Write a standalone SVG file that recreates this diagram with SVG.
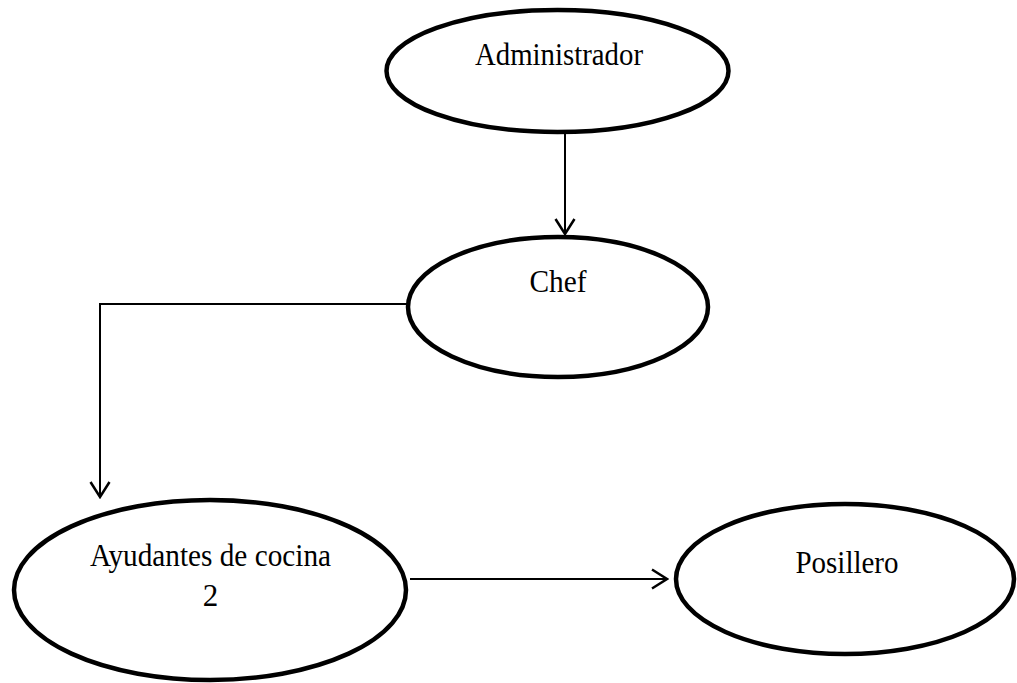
<svg xmlns="http://www.w3.org/2000/svg" width="1017" height="683" viewBox="0 0 1017 683">
  <style>
    .node { fill: #ffffff; stroke: #000000; stroke-width: 4.5; }
    .label { font-family: "Liberation Serif", "Times New Roman", serif; font-size: 31px; fill: #000000; text-anchor: middle; }
    .edge { fill: none; stroke: #000000; stroke-width: 2; }
  </style>
  <defs>
    <marker id="chevron" viewBox="-18 -12 20 24" refX="0" refY="0" markerWidth="20" markerHeight="24" markerUnits="userSpaceOnUse" orient="auto">
      <path d="M -15 -9.5 L 0 0 L -15 9.5" fill="none" stroke="#000000" stroke-width="2.5"/>
    </marker>
  </defs>
  <rect width="1017" height="683" fill="#ffffff"/>

  <g id="connectors">
    <path class="edge" d="M 565 131 L 565 234" marker-end="url(#chevron)"/>
    <path class="edge" d="M 408 304 L 100 304 L 100 497" marker-end="url(#chevron)"/>
    <path class="edge" d="M 410 579 L 667 579" marker-end="url(#chevron)"/>
  </g>

  <g id="administrador">
    <ellipse class="node" cx="557.5" cy="71" rx="171" ry="61"/>
    <text class="label" x="559" y="65" textLength="168" lengthAdjust="spacingAndGlyphs">Administrador</text>
  </g>

  <g id="chef">
    <ellipse class="node" cx="558" cy="307" rx="150" ry="70"/>
    <text class="label" x="558" y="292" textLength="57" lengthAdjust="spacingAndGlyphs">Chef</text>
  </g>

  <g id="ayudantes">
    <ellipse class="node" cx="210" cy="590" rx="196" ry="90"/>
    <text class="label" x="210.5" y="566" textLength="241" lengthAdjust="spacingAndGlyphs">Ayudantes de cocina</text>
    <text class="label" x="210.5" y="606">2</text>
  </g>

  <g id="posillero">
    <ellipse class="node" cx="845" cy="579" rx="169" ry="75"/>
    <text class="label" x="847" y="573" textLength="103" lengthAdjust="spacingAndGlyphs">Posillero</text>
  </g>
</svg>
